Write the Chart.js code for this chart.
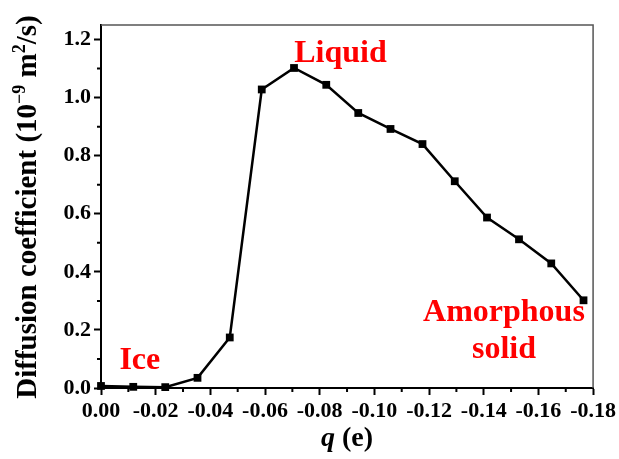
<!DOCTYPE html>
<html>
<head>
<meta charset="utf-8">
<script src="https://cdn.jsdelivr.net/npm/chart.js@4.4.0/dist/chart.umd.min.js"></script>
<style>
  html, body { margin: 0; padding: 0; background: #fff; }
</style>
</head>
<body>
<canvas id="diffChart" width="619" height="459"></canvas>
<script>
// data
const chargeQ = [0, -0.0118, -0.0235, -0.0353, -0.0471, -0.0588, -0.0706, -0.0824,
                 -0.0941, -0.1059, -0.1176, -0.1294, -0.1412, -0.1529, -0.1647, -0.1765];
const diffusion = [0.007, 0.004, 0.003, 0.035, 0.174, 1.028, 1.102, 1.044,
                   0.947, 0.892, 0.840, 0.712, 0.587, 0.512, 0.429, 0.302];
const xTickValues = [0, -0.02, -0.04, -0.06, -0.08, -0.10, -0.12, -0.14, -0.16, -0.18];
const xMinorValues = [-0.01, -0.03, -0.05, -0.07, -0.09, -0.11, -0.13, -0.15, -0.17];
const yTickValues = [0, 0.2, 0.4, 0.6, 0.8, 1.0, 1.2];
const yMinorValues = [0.1, 0.3, 0.5, 0.7, 0.9, 1.1];
const phaseNames = [['Liquid'], ['Ice'], ['Amorphous', 'solid']];
const phaseQ = [-0.0876, -0.0142, -0.1474];
const phaseD = [1.122, 0.065, 0.232];

const SERIF = '"Liberation Serif", "Times New Roman", serif';

// minor ticks, box edges, phase labels, axis titles
const extrasPlugin = {
    id: 'extras',
    afterDraw: function(chart) {
        const ctx = chart.ctx;
        const xs = chart.scales.x, ys = chart.scales.y;
        const area = chart.chartArea;
        ctx.save();

        // top / right frame
        ctx.strokeStyle = '#555';
        ctx.lineWidth = 1.5;
        ctx.beginPath();
        ctx.moveTo(area.left, area.top);
        ctx.lineTo(area.right, area.top);
        ctx.lineTo(area.right, area.bottom);
        ctx.stroke();

        // minor ticks
        ctx.strokeStyle = '#000';
        ctx.lineWidth = 2;
        ctx.beginPath();
        xMinorValues.forEach(v => {
            const px = xs.getPixelForValue(v);
            ctx.moveTo(px, area.bottom);
            ctx.lineTo(px, area.bottom + 4);
        });
        yMinorValues.forEach(v => {
            const py = ys.getPixelForValue(v);
            ctx.moveTo(area.left, py);
            ctx.lineTo(area.left - 4, py);
        });
        ctx.stroke();

        // phase labels
        ctx.fillStyle = '#ff0000';
        ctx.font = 'bold 32px ' + SERIF;
        ctx.textAlign = 'center';
        ctx.textBaseline = 'alphabetic';
        phaseNames.forEach((lines, i) => {
            const px = xs.getPixelForValue(phaseQ[i]);
            const py = ys.getPixelForValue(phaseD[i]);
            lines.forEach((t, j) => ctx.fillText(t, px, py + j * 37));
        });

        // x title: q (e)
        ctx.fillStyle = '#000';
        ctx.textAlign = 'left';
        const qFont = 'italic bold 28px ' + SERIF;
        const eFont = 'bold 28px ' + SERIF;
        ctx.font = qFont;
        const wq = ctx.measureText('q').width;
        ctx.font = eFont;
        const we = ctx.measureText(' (e)').width;
        let x0 = (area.left + area.right) / 2 - (wq + we) / 2;
        ctx.font = qFont;
        ctx.fillText('q', x0, 446);
        ctx.font = eFont;
        ctx.fillText(' (e)', x0 + wq, 446);

        // y title with superscripts
        const parts = [
            { t: 'Diffusion coefficient (10', sup: false },
            { t: '\u22129', sup: true },
            { t: ' m', sup: false },
            { t: '2', sup: true },
            { t: '/s)', sup: false }
        ];
        const bigFont = 'bold 29px ' + SERIF;
        const supFont = 'bold 18px ' + SERIF;
        let total = 0;
        parts.forEach(p => {
            ctx.font = p.sup ? supFont : bigFont;
            p.w = ctx.measureText(p.t).width;
            total += p.w;
        });
        ctx.translate(36, 207);
        ctx.rotate(-Math.PI / 2);
        let cx = -total / 2;
        parts.forEach(p => {
            ctx.font = p.sup ? supFont : bigFont;
            ctx.fillText(p.t, cx, p.sup ? -11 : 0);
            cx += p.w;
        });

        ctx.restore();
    }
};

const tickFont = { family: SERIF, size: 22, weight: 'bold' };

new Chart(document.getElementById('diffChart'), {
    type: 'line',
    data: {
        datasets: [{
            data: chargeQ.map((q, i) => ({ x: q, y: diffusion[i] })),
            borderColor: '#000',
            borderWidth: 2.5,
            pointStyle: 'rect',
            pointRadius: 5.5,
            pointBackgroundColor: '#000',
            pointBorderColor: '#000',
            pointBorderWidth: 0,
            tension: 0,
            clip: false
        }]
    },
    options: {
        responsive: false,
        animation: false,
        layout: { padding: { top: 25, right: 25, left: 0, bottom: 0 } },
        plugins: { legend: { display: false }, tooltip: { enabled: false } },
        scales: {
            x: {
                type: 'linear',
                min: -0.18,
                max: 0,
                reverse: true,
                afterBuildTicks: s => { s.ticks = xTickValues.map(v => ({ value: v })); },
                afterFit: s => { s.height = 71; },
                grid: { drawOnChartArea: false, tickLength: 7, tickWidth: 2, tickColor: '#000' },
                border: { color: '#000', width: 2 },
                ticks: {
                    color: '#000', font: tickFont, padding: 3,
                    maxRotation: 0, autoSkip: false,
                    callback: v => v.toFixed(2)
                }
            },
            y: {
                min: 0,
                max: 1.25,
                afterBuildTicks: s => { s.ticks = yTickValues.map(v => ({ value: v })); },
                afterFit: s => { s.width = 101; },
                grid: { drawOnChartArea: false, tickLength: 7, tickWidth: 2, tickColor: '#000' },
                border: { color: '#000', width: 2 },
                ticks: {
                    color: '#000', font: tickFont, padding: 3,
                    callback: v => v.toFixed(1)
                }
            }
        }
    },
    plugins: [extrasPlugin]
});
</script>
</body>
</html>
